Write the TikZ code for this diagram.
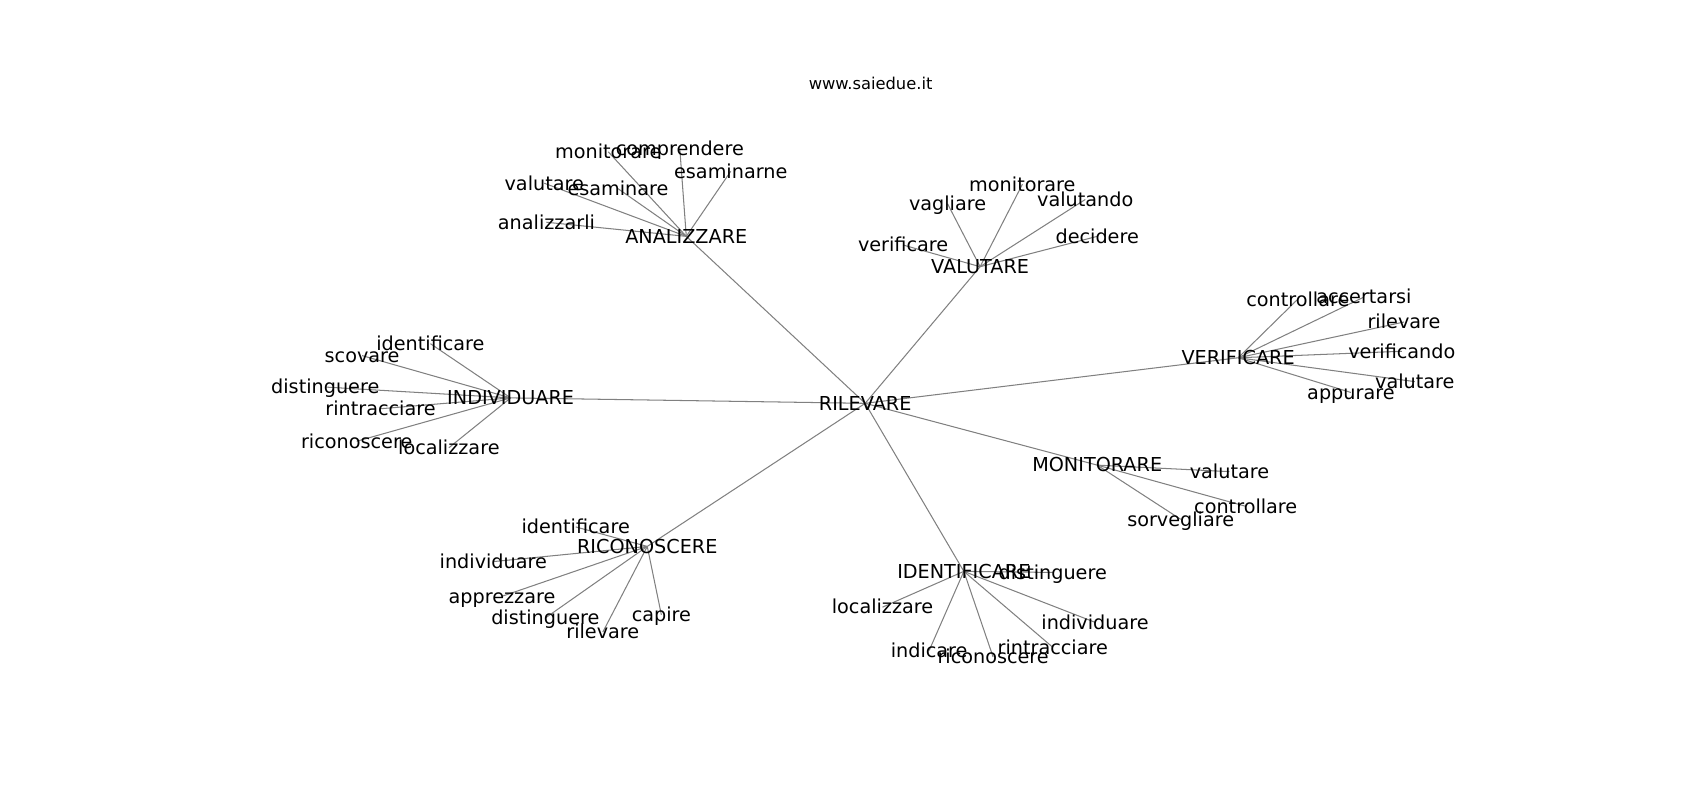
\documentclass[tikz,border=0pt]{standalone}
\usepackage{fontspec}
\setmainfont{DejaVu Sans}
\usetikzlibrary{backgrounds}

\tikzset{
  parola/.style={font=\fontsize{13.9}{16}\selectfont, text height=11.2pt, text depth=1.3pt, inner sep=0pt, anchor=center},
  arco/.style={draw=gray, line width=0.75pt}
}

\begin{document}
\begin{tikzpicture}[x=0.010843in, y=-0.010843in]
\useasboundingbox (0,0) rectangle (1568,738);

\node[font=\fontsize{11.8}{14}\selectfont] (sito) at (803,77) {www.saiedue.it};

% centro
\node[parola] (ril) at (798,372) {RILEVARE};

% rami
\node[parola] (ana) at (633,218) {ANALIZZARE};
\node[parola] (val) at (904,246) {VALUTARE};
\node[parola] (ver) at (1142,330) {VERIFICARE};
\node[parola] (mon) at (1012,429) {MONITORARE};
\node[parola] (ide) at (889,527) {IDENTIFICARE};
\node[parola] (ric) at (597,504) {RICONOSCERE};
\node[parola] (ind) at (471,367) {INDIVIDUARE};

% foglie ANALIZZARE
\node[parola] (ana1) at (504,205) {analizzarli};
\node[parola] (ana2) at (502,169) {valutare};
\node[parola] (ana3) at (570,174) {esaminare};
\node[parola] (ana4) at (561,140) {monitorare};
\node[parola] (ana5) at (627,137) {comprendere};
\node[parola] (ana6) at (674,158) {esaminarne};

% foglie VALUTARE
\node[parola] (val1) at (833,226) {verificare};
\node[parola] (val2) at (874,188) {vagliare};
\node[parola] (val3) at (943,170) {monitorare};
\node[parola] (val4) at (1001,184) {valutando};
\node[parola] (val5) at (1012,218) {decidere};

% foglie VERIFICARE
\node[parola] (ver1) at (1197,276) {controllare};
\node[parola] (ver2) at (1258,274) {accertarsi};
\node[parola] (ver3) at (1295,297) {rilevare};
\node[parola] (ver4) at (1293,324) {verificando};
\node[parola] (ver5) at (1305,352) {valutare};
\node[parola] (ver6) at (1246,362) {appurare};

% foglie MONITORARE
\node[parola] (mon1) at (1134,435) {valutare};
\node[parola] (mon2) at (1149,467) {controllare};
\node[parola] (mon3) at (1089,479) {sorvegliare};

% foglie IDENTIFICARE
\node[parola] (ide1) at (971,528) {distinguere};
\node[parola] (ide2) at (814,560) {localizzare};
\node[parola] (ide3) at (1010,574) {individuare};
\node[parola] (ide4) at (857,600) {indicare};
\node[parola] (ide5) at (916,606) {riconoscere};
\node[parola] (ide6) at (971,597) {rintracciare};

% foglie RICONOSCERE
\node[parola] (ric1) at (531,486) {identificare};
\node[parola] (ric2) at (455,518) {individuare};
\node[parola] (ric3) at (463,550) {apprezzare};
\node[parola] (ric4) at (503,570) {distinguere};
\node[parola] (ric5) at (556,583) {rilevare};
\node[parola] (ric6) at (610,567) {capire};

% foglie INDIVIDUARE
\node[parola] (ind1) at (397,317) {identificare};
\node[parola] (ind2) at (334,328) {scovare};
\node[parola] (ind3) at (300,357) {distinguere};
\node[parola] (ind4) at (351,377) {rintracciare};
\node[parola] (ind5) at (329,407) {riconoscere};
\node[parola] (ind6) at (414,413) {localizzare};

\begin{scope}[on background layer]
\draw[arco] (ril.center) -- (ana.center);
\draw[arco] (ril.center) -- (val.center);
\draw[arco] (ril.center) -- (ver.center);
\draw[arco] (ril.center) -- (mon.center);
\draw[arco] (ril.center) -- (ide.center);
\draw[arco] (ril.center) -- (ric.center);
\draw[arco] (ril.center) -- (ind.center);

\draw[arco] (ana.center) -- (ana1.center);
\draw[arco] (ana.center) -- (ana2.center);
\draw[arco] (ana.center) -- (ana3.center);
\draw[arco] (ana.center) -- (ana4.center);
\draw[arco] (ana.center) -- (ana5.center);
\draw[arco] (ana.center) -- (ana6.center);

\draw[arco] (val.center) -- (val1.center);
\draw[arco] (val.center) -- (val2.center);
\draw[arco] (val.center) -- (val3.center);
\draw[arco] (val.center) -- (val4.center);
\draw[arco] (val.center) -- (val5.center);

\draw[arco] (ver.center) -- (ver1.center);
\draw[arco] (ver.center) -- (ver2.center);
\draw[arco] (ver.center) -- (ver3.center);
\draw[arco] (ver.center) -- (ver4.center);
\draw[arco] (ver.center) -- (ver5.center);
\draw[arco] (ver.center) -- (ver6.center);

\draw[arco] (mon.center) -- (mon1.center);
\draw[arco] (mon.center) -- (mon2.center);
\draw[arco] (mon.center) -- (mon3.center);

\draw[arco] (ide.center) -- (ide1.center);
\draw[arco] (ide.center) -- (ide2.center);
\draw[arco] (ide.center) -- (ide3.center);
\draw[arco] (ide.center) -- (ide4.center);
\draw[arco] (ide.center) -- (ide5.center);
\draw[arco] (ide.center) -- (ide6.center);

\draw[arco] (ric.center) -- (ric1.center);
\draw[arco] (ric.center) -- (ric2.center);
\draw[arco] (ric.center) -- (ric3.center);
\draw[arco] (ric.center) -- (ric4.center);
\draw[arco] (ric.center) -- (ric5.center);
\draw[arco] (ric.center) -- (ric6.center);

\draw[arco] (ind.center) -- (ind1.center);
\draw[arco] (ind.center) -- (ind2.center);
\draw[arco] (ind.center) -- (ind3.center);
\draw[arco] (ind.center) -- (ind4.center);
\draw[arco] (ind.center) -- (ind5.center);
\draw[arco] (ind.center) -- (ind6.center);
\end{scope}

\end{tikzpicture}
\end{document}
